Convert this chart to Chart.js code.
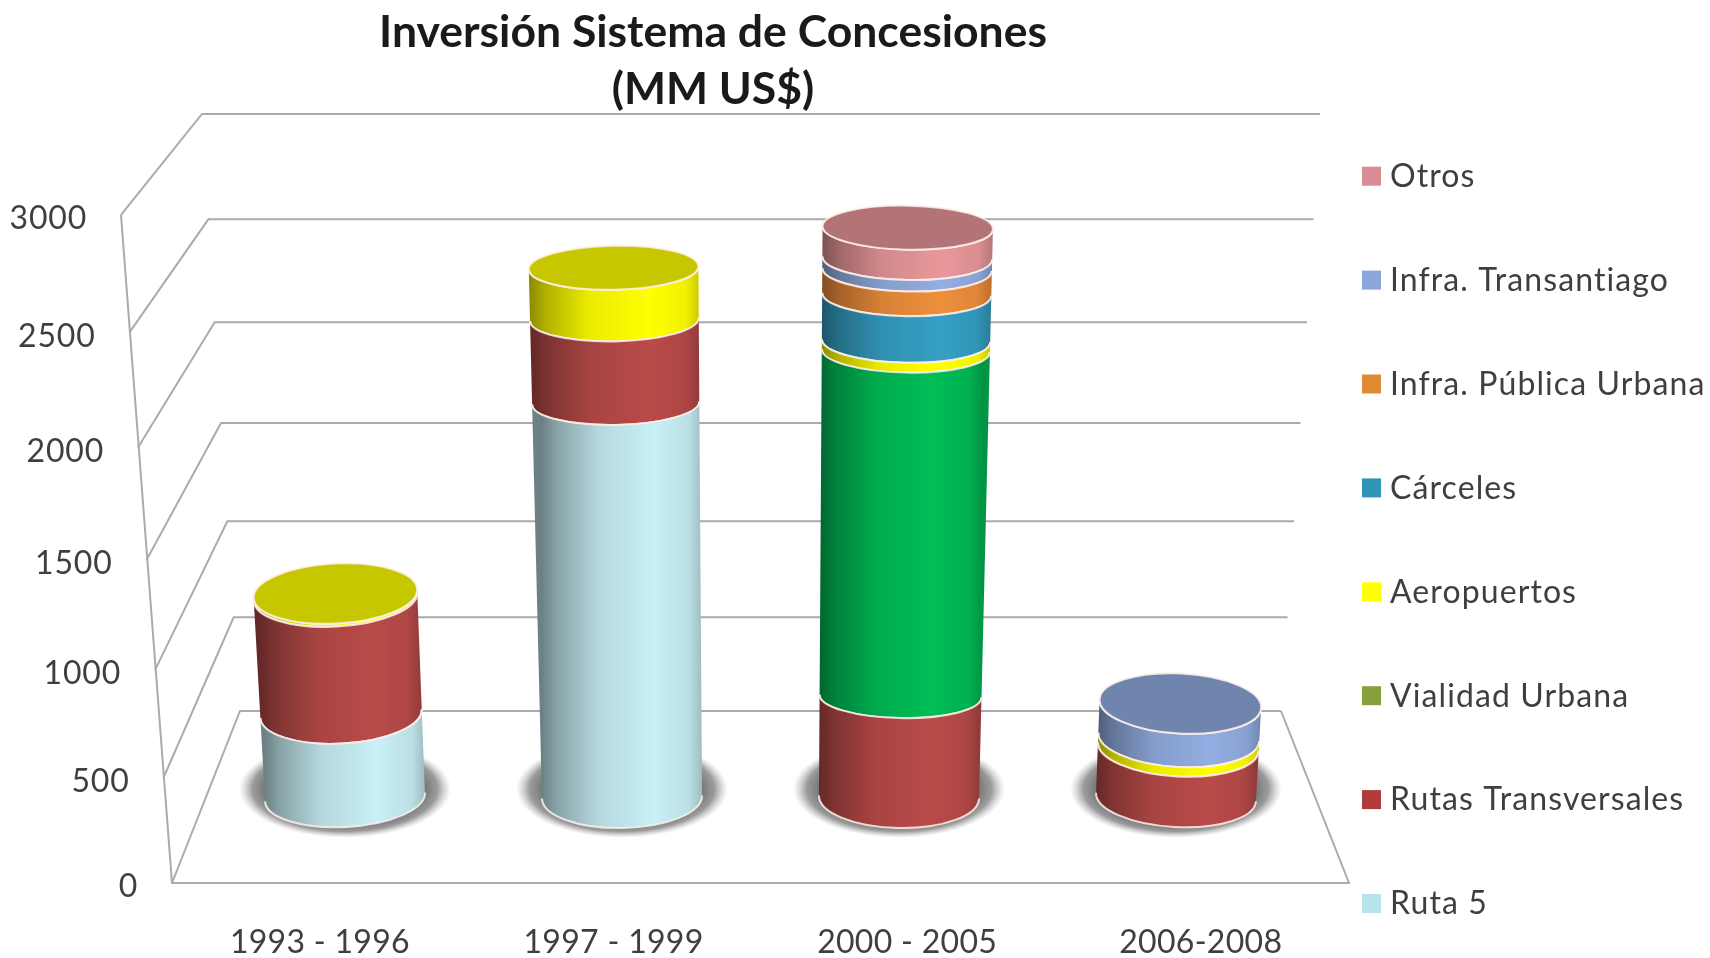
<!DOCTYPE html>
<html lang="es">
<head>
<meta charset="utf-8">
<title>Inversión Sistema de Concesiones</title>
<script src="https://cdn.jsdelivr.net/npm/chart.js@4"></script>
<style>
    html, body { margin: 0; padding: 0; background: #fff; }
    #wrap { width: 1710px; height: 958px; }
    /* the original picture is a soft, upscaled image */
    canvas { filter: blur(0.6px); }
</style>
</head>
<body>
<div id="wrap"><canvas id="chart" width="1710" height="958"></canvas></div>
<script>
// Chart data
const categories = ['1993 - 1996', '1997 - 1999', '2000 - 2005', '2006-2008'];
const yTickValues = [0, 500, 1000, 1500, 2000, 2500, 3000];
const seriesNames = ['Ruta 5', 'Rutas Transversales', 'Vialidad Urbana', 'Aeropuertos', 'Cárceles', 'Infra. Pública Urbana', 'Infra. Transantiago', 'Otros'];
const ruta5 = [420, 1915, 0, 0];
const rutasTransversales = [575, 385, 507, 255];
const vialidadUrbana = [0, 0, 1650, 0];
const aeropuertos = [15, 235, 45, 48];
const carceles = [0, 0, 213, 0];
const infraPublica = [0, 0, 112, 0];
const infraTransantiago = [0, 0, 52, 167];
const otros = [0, 0, 137, 0];
const seriesValues = [ruta5, rutasTransversales, vialidadUrbana, aeropuertos, carceles, infraPublica, infraTransantiago, otros];

// Colours (the green cylinder does not match its own legend swatch in the original)
const barColors = ['#c4ebf1', '#b54a48', '#00ba55', '#ffff00', '#349dc0', '#ea8c3b', '#90abde', '#e49597'];
const legendColors = ['#b7e3ea', '#b03c3c', '#86a03e', '#ffff00', '#2f94b5', '#e08a35', '#8ba7dc', '#d98c94'];
const textColor = '#3f3f3f';
const gridColor = '#ababab';
const fontFamily = 'Lato, "Noto Sans", sans-serif';

// 3D box the picture is projected on
const vanishX = 763;
const wall = {
    frontY0: 883, frontA: 0.208, frontB: 4.9e-6,
    backY0: 711, backA: 0.185, backB: 4.67e-6,
    frontX0: 172, frontX3000: 121,
    backX0: 240, backX3000: 202,
    rightX0: 1281, rightX3000: 1320,
    floorRight: 1349
};

function frontY(v) { return wall.frontY0 - wall.frontA * v - wall.frontB * v * v; }
function backY(v) { return wall.backY0 - wall.backA * v - wall.backB * v * v; }
function lerpX(a, b, v) { return a + (b - a) * v / 3000; }

function shade(hex, f) {
    const n = parseInt(hex.slice(1), 16);
    const ch = s => Math.max(0, Math.min(255, Math.round(((n >> s) & 255) * f)));
    return `rgb(${ch(16)}, ${ch(8)}, ${ch(0)})`;
}

// Y scale with the slight stretch towards the top that the perspective gives
class BentScale extends Chart.LinearScale {
    getPixelForDecimal(d) {
        return super.getPixelForDecimal(0.9317 * d + 0.0683 * d * d);
    }
}
BentScale.id = 'bent';
BentScale.defaults = Chart.LinearScale.defaults;

// Bar element drawn as one slice of a cylinder
class CylinderElement extends Chart.BarElement {
    draw(ctx) {
        const { x, y, base, width } = this.getProps(['x', 'y', 'base', 'width']);
        if (Math.abs(base - y) < 0.5) return;

        const { chart, dataIndex, datasetIndex } = this.slice;
        const floorY = chart.scales.y.getPixelForValue(0);
        const color = this.options.backgroundColor;
        const rot = (x - vanishX) * 1.3e-4;

        const ring = (py) => {
            const h = floorY - py;
            const s = 1 + 1.13e-4 * h;
            const outer = dataIndex === 0 || dataIndex === 3;
            return {
                x: vanishX + (x - vanishX) * s,
                y: py,
                rx: width / 2 * s,
                ry: outer ? 30 : 22 + 9 * Math.max(0, 1 - h / 100)
            };
        };
        const top = ring(y);
        const bot = ring(base);

        const grad = ctx.createLinearGradient(bot.x - bot.rx, 0, bot.x + bot.rx, 0);
        grad.addColorStop(0, shade(color, 0.55));
        grad.addColorStop(0.1, shade(color, 0.7));
        grad.addColorStop(0.35, shade(color, 0.92));
        grad.addColorStop(0.7, shade(color, 1.02));
        grad.addColorStop(0.92, shade(color, 0.95));
        grad.addColorStop(1, shade(color, 0.8));

        ctx.save();
        ctx.beginPath();
        ctx.ellipse(top.x, top.y, top.rx, top.ry, rot, 0, Math.PI, false);
        ctx.ellipse(bot.x, bot.y, bot.rx, bot.ry, rot, Math.PI, 0, true);
        ctx.closePath();
        ctx.fillStyle = grad;
        ctx.fill();

        // White edge on both rims
        ctx.strokeStyle = 'rgba(255, 240, 235, 0.85)';
        ctx.lineWidth = 2;
        ctx.beginPath();
        ctx.ellipse(bot.x, bot.y, bot.rx, bot.ry, rot, 0, Math.PI, false);
        ctx.stroke();
        ctx.beginPath();
        ctx.ellipse(top.x, top.y, top.rx, top.ry, rot, 0, Math.PI, false);
        ctx.stroke();

        // Flat darker lid on the last slice of the stack
        const isLast = chart.data.datasets.slice(datasetIndex + 1).every(d => !d.data[dataIndex]);
        if (isLast) {
            ctx.beginPath();
            ctx.ellipse(top.x, top.y, top.rx, top.ry, rot, 0, Math.PI * 2);
            ctx.fillStyle = shade(color, 0.78);
            ctx.fill();
            ctx.stroke();
        }
        ctx.restore();
    }
}
CylinderElement.id = 'cylinder';
CylinderElement.defaults = Chart.BarElement.defaults;
CylinderElement.defaultRoutes = Chart.BarElement.defaultRoutes;

class CylinderController extends Chart.BarController {
    draw() {
        // Elements need to know which stack and series they belong to
        this._cachedMeta.data.forEach((bar, i) => {
            bar.slice = { chart: this.chart, dataIndex: i, datasetIndex: this.index };
        });
        super.draw();
    }
}
CylinderController.id = 'cylinderBar';
CylinderController.defaults = Object.assign({}, Chart.BarController.defaults, { dataElementType: 'cylinder' });
CylinderController.overrides = Chart.BarController.overrides;

Chart.register(BentScale, CylinderElement, CylinderController);

// Walls, floor and the soft shadow under each cylinder
const boxPlugin = {
    id: 'box',
    beforeDatasetsDraw(chart) {
        const { ctx } = chart;
        const scale = chart.scales.y;
        ctx.save();
        ctx.strokeStyle = gridColor;
        ctx.lineWidth = 2;
        yTickValues.forEach(v => {
            ctx.beginPath();
            ctx.moveTo(lerpX(wall.frontX0, wall.frontX3000, v), frontY(v));
            ctx.lineTo(lerpX(wall.backX0, wall.backX3000, v), backY(v));
            ctx.lineTo(lerpX(wall.rightX0, wall.rightX3000, v), backY(v));
            ctx.stroke();
        });
        ctx.beginPath();
        ctx.moveTo(wall.frontX3000, frontY(3000));
        ctx.lineTo(wall.frontX0, frontY(0));
        ctx.lineTo(wall.floorRight, frontY(0));
        ctx.lineTo(wall.rightX0, backY(0));
        ctx.stroke();

        const floorY = scale.getPixelForValue(0);
        chart.getDatasetMeta(0).data.forEach(bar => {
            ctx.save();
            ctx.translate(bar.x, floorY - 8);
            ctx.scale(1, 0.46);
            const g = ctx.createRadialGradient(0, 0, 72, 0, 0, 106);
            g.addColorStop(0, 'rgba(95, 95, 95, 1)');
            g.addColorStop(0.6, 'rgba(130, 130, 130, 0.8)');
            g.addColorStop(1, 'rgba(170, 170, 170, 0)');
            ctx.fillStyle = g;
            ctx.beginPath();
            ctx.arc(0, 0, 106, 0, Math.PI * 2);
            ctx.fill();
            ctx.restore();
        });
        ctx.restore();
    },
    afterLayout(chart) {
        // Title is centred over the plot of the original, not over the page
        chart.titleBlock.left = 0;
        chart.titleBlock.right = 1426;
    },
    afterDraw(chart) {
        const { ctx } = chart;
        ctx.save();
        ctx.fillStyle = textColor;
        ctx.textBaseline = 'middle';

        // Value labels along the front edge of the wall
        ctx.font = `32px ${fontFamily}`;
        ctx.letterSpacing = '0.8px';
        ctx.textAlign = 'right';
        chart.scales.y.ticks.forEach(t => {
            ctx.fillText(String(t.value), lerpX(wall.frontX0, wall.frontX3000, t.value) - 34, frontY(t.value) + 4);
        });

        // Category labels, spread out to the front edge of the floor
        ctx.letterSpacing = '0.3px';
        ctx.textAlign = 'center';
        const xScale = chart.scales.x;
        categories.forEach((c, i) => {
            const px = xScale.getPixelForValue(i);
            ctx.fillText(c, vanishX + (px - vanishX) * 1.06, 943);
        });

        // Legend, last series on top
        ctx.letterSpacing = '1.1px';
        ctx.textAlign = 'left';
        seriesNames.forEach((name, i) => {
            const ly = 904 - 103.9 * i;
            ctx.fillStyle = legendColors[i];
            ctx.fillRect(1362, ly - 10, 19, 19);
            ctx.fillStyle = textColor;
            ctx.fillText(name, 1390, ly);
        });
        ctx.restore();
    }
};

new Chart(document.getElementById('chart'), {
    type: 'cylinderBar',
    plugins: [boxPlugin],
    data: {
        labels: categories,
        datasets: seriesNames.map((name, i) => ({
            label: name,
            data: seriesValues[i],
            backgroundColor: barColors[i],
            clip: false,
            categoryPercentage: 1,
            barPercentage: 0.578
        }))
    },
    options: {
        responsive: false,
        animation: false,
        layout: { padding: { left: 206.5, right: 395.5, top: 0, bottom: 161 } },
        plugins: {
            legend: { display: false },
            tooltip: { enabled: false },
            title: {
                display: true,
                text: ['Inversión Sistema de Concesiones', '(MM US$)'],
                color: '#1a1a1a',
                font: { family: fontFamily, size: 44.5, weight: 'bold', lineHeight: 57 / 44.5 },
                padding: { top: 4, bottom: 46 }
            }
        },
        scales: {
            x: { stacked: true, display: false, offset: true },
            y: { type: 'bent', stacked: true, display: false, min: 0, max: 3000, ticks: { stepSize: 500 } }
        }
    }
});
</script>
</body>
</html>
